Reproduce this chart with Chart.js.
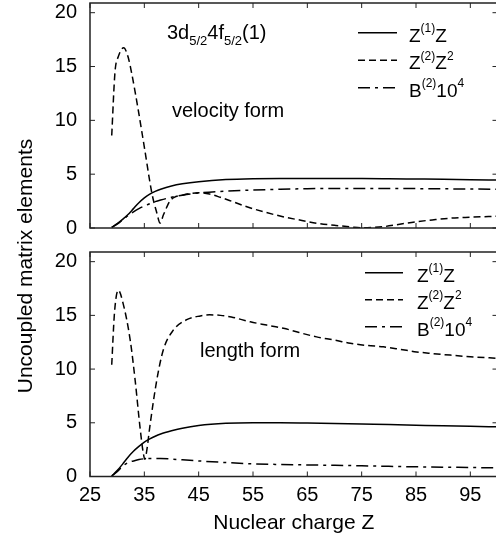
<!DOCTYPE html>
<html><head><meta charset="utf-8">
<script src="https://cdn.jsdelivr.net/npm/chart.js@4.4.1/dist/chart.umd.min.js"></script>
<style>
html,body{margin:0;padding:0;background:#fff;overflow:hidden;}
#wrap{position:relative;width:496px;height:539px;overflow:hidden;background:#fff;}
canvas{position:absolute;left:0;top:0;}
</style></head><body>
<div id="wrap"><canvas id="cBot" width="500" height="539"></canvas><canvas id="cTop" width="500" height="539"></canvas></div>
<script>
// ---------- data ----------
const xTicks = [25, 35, 45, 55, 65, 75, 85, 95];
const yTicks = [0, 5, 10, 15, 20];

// velocity form (top panel)
const velZ1_Z = [29, 30, 31, 32, 33, 34, 35, 36, 37, 38, 40, 42, 45, 50, 55, 60, 65, 70, 75, 80, 85, 90, 95, 100];
const velZ1_v = [0.05, 0.4, 0.8, 1.25, 1.8, 2.35, 2.8, 3.15, 3.4, 3.6, 3.9, 4.1, 4.3, 4.5, 4.58, 4.6, 4.6, 4.6, 4.6, 4.58, 4.55, 4.52, 4.48, 4.45];
const velZ2_Z = [29, 29.6, 30.2, 31.2, 32.0, 32.7, 33.9, 35.1, 36.4, 37.3, 37.9, 38.5, 39.1, 39.7, 40.5, 42, 43.5, 45, 47, 49, 51, 54, 57, 60.5, 64, 67, 70, 73, 75.3, 77, 79, 82, 85, 88, 91, 95, 100];
const velZ2_v = [8.6, 14.5, 15.9, 16.75, 15.9, 14.3, 10.9, 7.2, 3.2, 1.4, 0.45, 1.2, 1.9, 2.5, 2.85, 3.05, 3.2, 3.27, 3.15, 2.85, 2.5, 1.95, 1.5, 1.05, 0.7, 0.42, 0.25, 0.1, 0.02, 0.05, 0.12, 0.35, 0.58, 0.75, 0.9, 1.0, 1.1];
const velB_Z = [29, 30, 31, 32, 33, 34, 35, 36, 37, 38, 40, 42, 45, 50, 55, 60, 65, 70, 75, 80, 85, 90, 95, 100];
const velB_v = [0.05, 0.35, 0.75, 1.15, 1.5, 1.8, 2.05, 2.25, 2.45, 2.6, 2.85, 3.05, 3.25, 3.42, 3.52, 3.6, 3.65, 3.67, 3.68, 3.68, 3.66, 3.64, 3.62, 3.6];

// length form (bottom panel)
const lenZ1_Z = [29, 30, 31, 32, 33, 34, 35, 36, 37, 38, 40, 42, 45, 50, 55, 60, 65, 70, 75, 80, 85, 90, 95, 100];
const lenZ1_v = [0.05, 0.55, 1.15, 1.8, 2.35, 2.8, 3.2, 3.5, 3.75, 3.95, 4.25, 4.5, 4.75, 4.95, 5.0, 5.0, 4.97, 4.93, 4.88, 4.84, 4.78, 4.72, 4.67, 4.63];
const lenZ2_Z = [29, 29.5, 30.2, 31.1, 32.4, 33.3, 34.2, 34.8, 35.1, 35.5, 36, 37.3, 38.5, 40.3, 42.8, 45.3, 47, 49, 51, 54.5, 57.5, 60.6, 63.5, 66.7, 70, 72.9, 76, 79, 82, 85.1, 88, 91.3, 95, 100];
const lenZ2_v = [10.4, 15.2, 17.35, 16.1, 12.7, 9.0, 4.6, 2.2, 1.6, 2.6, 4.6, 9.0, 11.8, 13.6, 14.6, 14.95, 15.05, 15.0, 14.85, 14.4, 14.1, 13.8, 13.4, 13.0, 12.7, 12.4, 12.2, 12.07, 11.85, 11.6, 11.45, 11.3, 11.15, 11.0];
const lenB_Z = [29, 30, 31, 32, 33, 34, 35, 36, 38, 40, 42, 45, 50, 55, 60, 65, 70, 75, 80, 85, 90, 95, 100];
const lenB_v = [0.05, 0.45, 0.95, 1.3, 1.45, 1.58, 1.65, 1.68, 1.68, 1.62, 1.55, 1.45, 1.3, 1.18, 1.12, 1.08, 1.04, 1.0, 0.95, 0.9, 0.87, 0.84, 0.8];

const seriesLabels = [
  [['Z', ''], ['(1)', 'sup'], ['Z', '']],
  [['Z', ''], ['(2)', 'sup'], ['Z', ''], ['2', 'sup']],
  [['B', ''], ['(2)', 'sup'], ['10', ''], ['4', 'sup']]
];
const topTitle = [['3d', ''], ['5/2', 'sub'], ['4f', ''], ['5/2', 'sub'], ['(1)', '']];
const xTitle = 'Nuclear charge Z';
const yTitle = 'Uncoupled matrix elements';

// ---------- rendering ----------
const FAMILY = "'Liberation Sans', Arial, Helvetica, sans-serif";
Chart.defaults.font.family = FAMILY;
Chart.defaults.color = '#000';

const dashes = [[], [7, 4], [12, 5, 3, 5]];

function pts(zs, vs) { return zs.map((z, i) => ({ x: z, y: vs[i] })); }

function drawParts(ctx, x, y, parts, size) {
  ctx.textBaseline = 'alphabetic';
  ctx.textAlign = 'left';
  parts.forEach(p => {
    let fs = size, dy = 0;
    if (p[1] === 'sup') { fs = Math.round(size * 0.63); dy = -size * 0.48; }
    if (p[1] === 'sub') { fs = Math.round(size * 0.65); dy = size * 0.3; }
    ctx.font = fs + 'px ' + FAMILY;
    ctx.fillText(p[0], x, y + dy);
    x += ctx.measureText(p[0]).width;
  });
}

const decor = {
  id: 'decor',
  afterDraw(chart, args, o) {
    const { ctx, chartArea: a, scales: { x, y } } = chart;
    ctx.save();
    // frame
    ctx.strokeStyle = '#222';
    ctx.lineWidth = 1.5;
    ctx.setLineDash([]);
    ctx.strokeRect(a.left, a.top, a.right - a.left, a.bottom - a.top);
    // inward ticks on all four sides
    ctx.lineWidth = 1;
    ctx.beginPath();
    xTicks.forEach(v => {
      const px = x.getPixelForValue(v);
      ctx.moveTo(px, a.bottom); ctx.lineTo(px, a.bottom - 5);
      ctx.moveTo(px, a.top); ctx.lineTo(px, a.top + 5);
    });
    yTicks.forEach(v => {
      const py = y.getPixelForValue(v);
      ctx.moveTo(a.left, py); ctx.lineTo(a.left + 5, py);
      ctx.moveTo(a.right, py); ctx.lineTo(a.right - 5, py);
    });
    ctx.stroke();
    ctx.fillStyle = '#000';
    // annotations
    (o.notes || []).forEach(n => {
      drawParts(ctx, a.left + n.dx, a.top + n.dy, n.parts, n.size);
    });
    // legend
    const L = o.legend;
    chart.data.datasets.forEach((ds, i) => {
      const by = a.top + L.dy0 + i * L.step;
      ctx.strokeStyle = '#000';
      ctx.lineWidth = ds.borderWidth;
      ctx.setLineDash(ds.borderDash || []);
      ctx.beginPath();
      ctx.moveTo(a.left + L.lx0, by - 8.7);
      ctx.lineTo(a.left + L.lx1, by - 8.7);
      ctx.stroke();
      ctx.setLineDash([]);
      drawParts(ctx, a.left + L.tx, by, seriesLabels[i], L.size);
    });
    // shared y-axis title
    if (o.yTitle) {
      ctx.save();
      ctx.translate(o.yTitle.x, o.yTitle.y);
      ctx.rotate(-Math.PI / 2);
      ctx.font = '21px ' + FAMILY;
      ctx.textAlign = 'center';
      ctx.textBaseline = 'middle';
      ctx.fillText(yTitle, 0, 0);
      ctx.restore();
    }
    ctx.restore();
  }
};

function makeChart(id, sets, padding, showX, plug) {
  const datasets = sets.map((s, i) => ({
    data: pts(s[0], s[1]),
    borderColor: '#000',
    borderWidth: 1.5,
    borderDash: dashes[i],
    pointRadius: 0,
    fill: false,
    cubicInterpolationMode: 'monotone',
    tension: 0.4
  }));
  return new Chart(document.getElementById(id), {
    type: 'line',
    data: { datasets },
    options: {
      responsive: false,
      animation: false,
      events: [],
      layout: { padding },
      plugins: { legend: { display: false }, tooltip: { enabled: false }, decor: plug },
      scales: {
        x: {
          type: 'linear', min: 25, max: 100,
          display: showX,
          grid: { display: false, drawTicks: false },
          border: { display: false },
          afterBuildTicks: s => { s.ticks = xTicks.map(v => ({ value: v })); },
          ticks: { font: { size: 20 }, padding: 7, maxRotation: 0 },
          title: { display: showX, text: xTitle, font: { size: 21 }, padding: { top: 0, bottom: 3 } },
          afterFit: s => { s.paddingLeft = 0; s.paddingRight = 0; if (showX) s.height = 539 - 476.5; }
        },
        y: {
          type: 'linear', min: 0, max: 20.9,
          grid: { display: false, drawTicks: false },
          border: { display: false },
          afterBuildTicks: s => { s.ticks = yTicks.map(v => ({ value: v })); },
          ticks: { font: { size: 20 }, padding: 13 },
          afterFit: s => { s.width = 90; s.paddingTop = 0; s.paddingBottom = 0; }
        }
      }
    },
    plugins: [decor]
  });
}

makeChart('cTop',
  [[velZ1_Z, velZ1_v], [velZ2_Z, velZ2_v], [velB_Z, velB_v]],
  { left: 0, right: 2.5, top: 3, bottom: 539 - 228 },
  false,
  {
    notes: [
      { dx: 77, dy: 36, parts: topTitle, size: 20 },
      { dx: 82, dy: 114, parts: [['velocity form', '']], size: 20 }
    ],
    legend: { lx0: 268, lx1: 307, tx: 319, dy0: 38.5, step: 27.5, size: 19 }
  });

makeChart('cBot',
  [[lenZ1_Z, lenZ1_v], [lenZ2_Z, lenZ2_v], [lenB_Z, lenB_v]],
  { left: 0, right: 2.5, top: 252, bottom: 0 },
  true,
  {
    notes: [
      { dx: 110, dy: 105, parts: [['length form', '']], size: 20 }
    ],
    legend: { lx0: 275, lx1: 313, tx: 327, dy0: 29.5, step: 27, size: 19 },
    yTitle: { x: 26, y: 266 }
  });
</script>
</body></html>
